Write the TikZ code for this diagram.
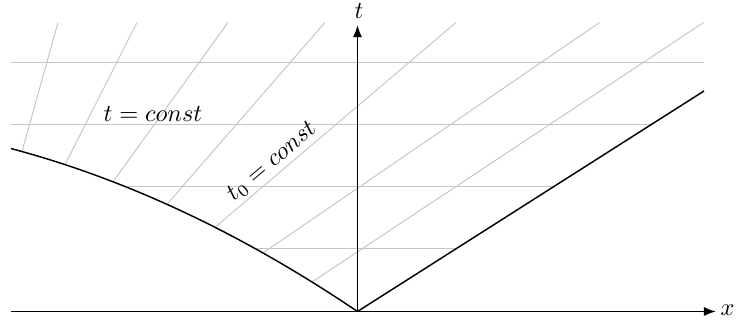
\documentclass[tikz,border=0pt]{standalone}
\usetikzlibrary{arrows.meta}
\begin{document}
\begin{tikzpicture}[x=0.41pt,y=-0.41pt,
  axis/.style={thick,-{Latex[length=5pt,width=3.8pt]}},
  bound/.style={semithick},
  gridline/.style={gray!45,line width=0.4pt},
  lab/.style={inner sep=0pt}]
\useasboundingbox (0,0) rectangle (736,324);
% key points
\coordinate (O) at (357.5,311.5);
\coordinate (R) at (704,91);
\coordinate (L) at (11,148.6);
\coordinate (xs) at (11,311.5);
\coordinate (xe) at (716,311.5);
\coordinate (te) at (357.5,25);
% start points of t0 = const lines (on the left curve)
\coordinate (c1) at (22,151.5);
\coordinate (c2) at (65,164.6);
\coordinate (c3) at (113,181.8);
\coordinate (c4) at (167,204.3);
\coordinate (c5) at (215,227.3);
\coordinate (c6) at (263,253.0);
\coordinate (c7) at (312,282.0);
% their top ends
\coordinate (u1) at (58,22.5);
\coordinate (u2) at (137,22.5);
\coordinate (u3) at (228,22.5);
\coordinate (u4) at (325,22.5);
\coordinate (u5) at (456,22.5);
\coordinate (u6) at (599.5,22.5);
\coordinate (u7) at (705,21.5);
% horizontal t = const lines
\coordinate (h1a) at (0,62.5);   \coordinate (h1b) at (736,62.5);
\coordinate (h2a) at (0,125);    \coordinate (h2b) at (736,125);
\coordinate (h3a) at (0,187);    \coordinate (h3b) at (736,187);
\coordinate (h4a) at (0,249);    \coordinate (h4b) at (736,249);
\begin{scope}
  \clip (11,22.5) -- (L)
    -- plot[domain=346.5:0,samples=60] ({357.5-\x},{311.5-0.675*\x+5.91*(\x/100)*(\x/100)})
    -- (R) -- (704,22.5) -- cycle;
  \draw[gridline] (h1a) -- (h1b);
  \draw[gridline] (h2a) -- (h2b);
  \draw[gridline] (h3a) -- (h3b);
  \draw[gridline] (h4a) -- (h4b);
  \foreach \i in {1,...,7} { \draw[gridline] (c\i) -- (u\i); }
\end{scope}
% boundaries
\draw[bound] plot[domain=346.5:0,samples=60] ({357.5-\x},{311.5-0.675*\x+5.91*(\x/100)*(\x/100)});
\draw[bound] (O) -- (R);
% axes
\draw[axis] (xs) -- (xe);
\draw[axis] (O) -- (te);
% labels
\node[lab] (tl) at (359,11) {$t$};
\node[lab] (xl) at (727.5,310) {$x$};
\node[lab] (tc) at (153,114) {$t=const$};
\node[lab,rotate=40.4] (t0) at (272,162) {$t_0=const$};
\end{tikzpicture}
\end{document}
